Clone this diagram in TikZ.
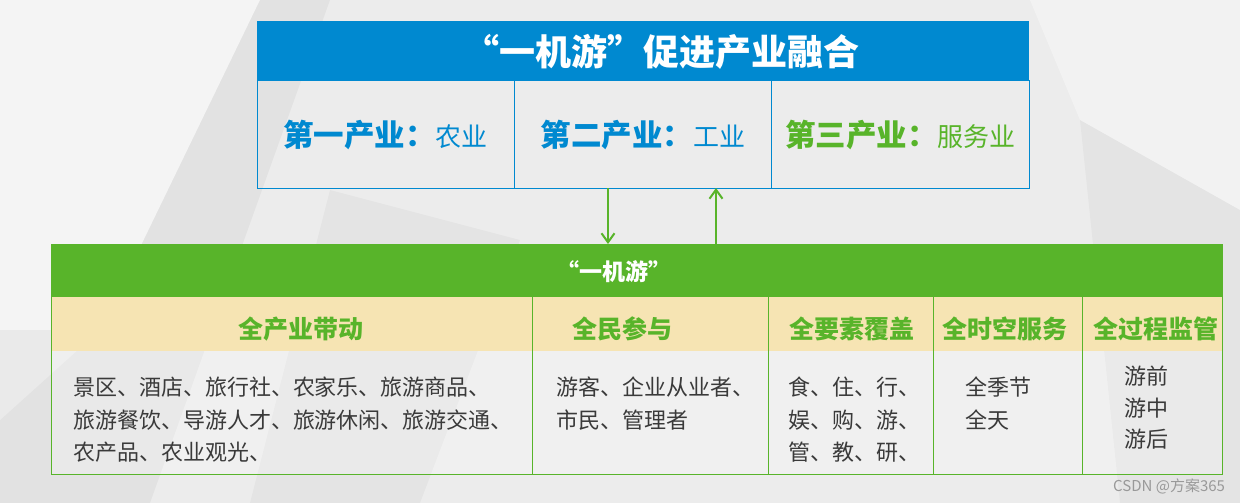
\documentclass[tikz,border=0pt]{standalone}
\usepackage{fontspec}
\setmainfont{Noto Sans CJK SC}
\usetikzlibrary{arrows.meta,positioning}
\definecolor{TopBlue}{HTML}{0089D0}
\definecolor{YjyGreen}{HTML}{58B42A}
\definecolor{HdrBeige}{HTML}{F6E4B3}
\definecolor{BodyGray}{HTML}{3A3A3A}
\definecolor{BgGray}{HTML}{ECECEC}
\newcommand\indb{\fontsize{30.5}{30.5}\selectfont\bfseries}
\newcommand\indn{\fontsize{26}{26}\selectfont}

\begin{document}
\begin{tikzpicture}[x=1pt,y=-1pt,
  every node/.style={inner sep=0pt,outer sep=0pt},
  titlebar/.style={fill=TopBlue,minimum width=772pt,minimum height=60pt},
  indcell/.style={draw=TopBlue,line width=1pt,minimum width=257.33pt,minimum height=107pt},
  greenbar/.style={fill=YjyGreen,minimum width=1171pt,minimum height=53pt},
  hdrband/.style={fill=HdrBeige,minimum width=1171pt,minimum height=54pt},
  bodyband/.style={fill=white,fill opacity=0.25,minimum width=1171pt,minimum height=123pt},
  hdrtext/.style={text=YjyGreen,font=\fontsize{25}{25}\selectfont\bfseries},
  bodytext/.style={text=BodyGray,align=left,anchor=north west,font=\fontsize{22}{32.5}\selectfont},
  gridline/.style={draw=YjyGreen,line width=1pt},
  flow/.style={draw=YjyGreen,line width=2pt,-{Straight Barb[length=9pt,width=13pt]}}]

\useasboundingbox (0,0) rectangle (1240,503);
\fill[BgGray] (0,0) rectangle (1240,503);
\fill[white,opacity=0.45] (0,0) -- (260,0) -- (100,330) -- (0,420) -- cycle;
\fill[black,opacity=0.04] (0,330) -- (100,330) -- (260,0) -- (330,0) -- (150,503) -- (0,503) -- cycle;
\fill[white,opacity=0.35] (1030,0) -- (1240,0) -- (1240,210) -- (1080,120) -- cycle;
\fill[black,opacity=0.03] (1080,120) -- (1240,210) -- (1240,503) -- (1120,503) -- cycle;
\fill[black,opacity=0.03] (330,190) -- (520,240) -- (420,503) -- (250,503) -- cycle;

\node[titlebar] (title) at (643,51) {};
\node[text=white,font=\fontsize{36}{36}\selectfont\bfseries] (titlelabel) at (661,52) {“一机游”促进产业融合};
\node[indcell,text=TopBlue,anchor=north west] (ind1) at (title.south west) {{\indb 第一产业：}\indn 农业};
\node[indcell,text=TopBlue,right=0pt of ind1] (ind2) {{\indb 第二产业：}\indn 工业};
\node[indcell,text=YjyGreen,right=0pt of ind2] (ind3) {{\indb 第三产业：}\indn 服务业};

\node[greenbar] (yjy) at (636.5,270.5) {};
\node[hdrband,below=0pt of yjy] (hdr) {};
\node[bodyband,below=0pt of hdr] (body) {};
\node[text=white,font=\fontsize{23}{23}\selectfont\bfseries] (yjylabel) at (614,272) {“一机游”};

\draw[gridline] (yjy.north west) rectangle (body.south east);
\foreach \x in {532,768,933,1082}
  \draw[gridline] (\x,297) -- (\x,474);

\node[hdrtext] (h1) at (301,329) {全产业带动};
\node[hdrtext] (h2) at (622,329) {全民参与};
\node[hdrtext] (h3) at (852,329) {全要素覆盖};
\node[hdrtext] (h4) at (1005,329) {全时空服务};
\node[hdrtext,anchor=west] (h5) at (1093,329) {全过程监管};

\node[bodytext] (b1) at (73,377) {景区、酒店、旅行社、农家乐、旅游商品、\\旅游餐饮、导游人才、旅游休闲、旅游交通、\\农产品、农业观光、};
\node[bodytext] (b2) at (556,377) {游客、企业从业者、\\市民、管理者};
\node[bodytext] (b3) at (788,377) {食、住、行、\\娱、购、游、\\管、教、研、};
\node[bodytext] (b4) at (965,377) {全季节\\全天};
\node[bodytext,font=\fontsize{22}{31.5}\selectfont] (b5) at (1124,366) {游前\\游中\\游后};

\coordinate (dn) at (608,0);
\coordinate (up) at (716,0);
\draw[flow] (ind2.south -| dn) -- (yjy.north -| dn);
\draw[flow] (yjy.north -| up) -- (ind2.south -| up);

\node[anchor=east,text=black!40,font=\fontsize{15}{15}\selectfont] (mark) at (1225,486) {CSDN @方案365};
\end{tikzpicture}
\end{document}
